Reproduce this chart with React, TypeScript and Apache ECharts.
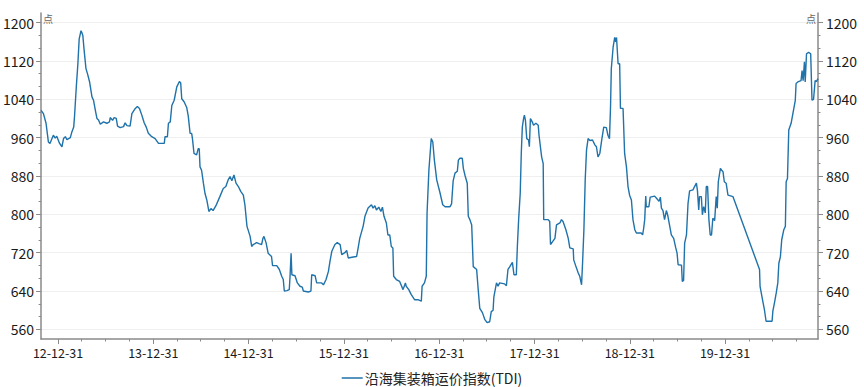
import React, { useEffect, useRef } from "react";
import * as echarts from "echarts";

const seriesName = "沿海集装箱运价指数(TDI)";
const unitLabel = "点";

const tdi2012: [string, number][] = [
  ["2012-10-27", 1017], ["2012-11-05", 1010], ["2012-11-15", 990], ["2012-11-24", 951],
  ["2012-11-30", 948], ["2012-12-13", 965], ["2012-12-20", 959], ["2012-12-26", 963],
];
const tdi2013: [string, number][] = [
  ["2013-01-06", 948], ["2013-01-15", 941], ["2013-01-21", 958], ["2013-01-28", 962],
  ["2013-02-03", 956], ["2013-02-16", 960], ["2013-02-22", 972], ["2013-03-01", 982],
  ["2013-03-04", 1003], ["2013-03-11", 1066], ["2013-03-17", 1114], ["2013-03-22", 1166],
  ["2013-03-29", 1183], ["2013-04-02", 1178], ["2013-04-05", 1173], ["2013-04-10", 1142],
  ["2013-04-17", 1104], ["2013-04-23", 1093], ["2013-05-01", 1076], ["2013-05-10", 1045],
  ["2013-05-16", 1038], ["2013-05-23", 1017], ["2013-05-29", 1000], ["2013-06-04", 997],
  ["2013-06-11", 988], ["2013-06-23", 993], ["2013-07-06", 990], ["2013-07-16", 993],
  ["2013-07-19", 1002], ["2013-07-28", 996], ["2013-08-03", 1002], ["2013-08-11", 1000],
  ["2013-08-16", 984], ["2013-08-26", 981], ["2013-09-08", 983], ["2013-09-14", 991],
  ["2013-09-21", 985], ["2013-10-03", 984], ["2013-10-10", 1010], ["2013-10-23", 1021],
  ["2013-10-31", 1025], ["2013-11-08", 1021], ["2013-11-17", 1007], ["2013-11-26", 991],
  ["2013-12-04", 982], ["2013-12-12", 969], ["2013-12-25", 962],
];
const tdi2014: [string, number][] = [
  ["2014-01-07", 958], ["2014-01-20", 948], ["2014-02-11", 948], ["2014-02-14", 962],
  ["2014-02-23", 962], ["2014-02-27", 990], ["2014-03-06", 993], ["2014-03-12", 1027],
  ["2014-03-21", 1038], ["2014-03-31", 1066], ["2014-04-10", 1077], ["2014-04-15", 1074],
  ["2014-04-19", 1041], ["2014-04-28", 1035], ["2014-05-08", 1023], ["2014-05-14", 1005],
  ["2014-05-21", 969], ["2014-05-27", 969], ["2014-05-30", 958], ["2014-06-05", 927],
  ["2014-06-15", 924], ["2014-06-21", 937], ["2014-06-25", 937], ["2014-06-28", 899],
  ["2014-07-04", 892], ["2014-07-11", 865], ["2014-07-17", 844], ["2014-07-24", 830],
  ["2014-08-01", 806], ["2014-08-09", 812], ["2014-08-17", 808], ["2014-08-28", 818],
  ["2014-09-12", 837], ["2014-09-25", 854], ["2014-10-05", 858], ["2014-10-14", 872],
  ["2014-10-21", 879], ["2014-10-28", 870], ["2014-11-05", 882], ["2014-11-13", 865],
  ["2014-11-22", 858], ["2014-12-01", 848], ["2014-12-11", 840], ["2014-12-17", 820],
  ["2014-12-25", 775],
];
const tdi2015: [string, number][] = [
  ["2015-01-06", 754], ["2015-01-12", 733], ["2015-01-18", 737], ["2015-01-31", 741],
  ["2015-02-09", 739], ["2015-02-19", 737], ["2015-02-24", 750], ["2015-02-28", 754],
  ["2015-03-08", 741], ["2015-03-16", 719], ["2015-03-29", 712], ["2015-04-02", 693],
  ["2015-04-18", 693], ["2015-04-28", 685], ["2015-05-07", 671], ["2015-05-13", 664],
  ["2015-05-17", 640], ["2015-05-27", 641], ["2015-06-05", 643], ["2015-06-08", 671],
  ["2015-06-12", 719], ["2015-06-15", 674], ["2015-06-27", 672], ["2015-07-06", 657],
  ["2015-07-16", 650], ["2015-07-25", 648], ["2015-07-29", 640], ["2015-08-17", 638],
  ["2015-08-27", 640], ["2015-08-30", 674], ["2015-09-12", 672], ["2015-09-18", 657],
  ["2015-10-07", 657], ["2015-10-14", 653], ["2015-10-24", 664], ["2015-11-02", 681],
  ["2015-11-08", 702], ["2015-11-15", 723], ["2015-11-27", 737], ["2015-12-06", 741],
  ["2015-12-17", 737], ["2015-12-23", 716],
];
const tdi2016: [string, number][] = [
  ["2016-01-04", 720], ["2016-01-11", 725], ["2016-01-17", 709], ["2016-02-05", 711],
  ["2016-02-18", 712], ["2016-02-24", 730], ["2016-03-01", 750], ["2016-03-14", 775],
  ["2016-03-21", 796], ["2016-04-02", 813], ["2016-04-15", 820], ["2016-04-21", 813],
  ["2016-04-28", 818], ["2016-05-04", 809], ["2016-05-13", 815], ["2016-05-21", 806],
  ["2016-05-27", 815], ["2016-06-02", 796], ["2016-06-11", 782], ["2016-06-17", 757],
  ["2016-06-24", 757], ["2016-06-30", 733], ["2016-07-06", 730], ["2016-07-09", 671],
  ["2016-07-19", 664], ["2016-08-01", 660], ["2016-08-14", 643], ["2016-08-23", 657],
  ["2016-08-26", 650], ["2016-09-05", 643], ["2016-09-14", 633], ["2016-09-27", 622],
  ["2016-10-10", 622], ["2016-10-23", 619], ["2016-10-26", 650], ["2016-11-04", 657],
  ["2016-11-11", 671], ["2016-11-14", 803], ["2016-11-21", 892], ["2016-11-30", 958],
  ["2016-12-06", 951], ["2016-12-12", 913], ["2016-12-21", 872],
];
const tdi2017: [string, number][] = [
  ["2017-01-03", 844], ["2017-01-13", 820], ["2017-01-22", 816], ["2017-02-10", 816],
  ["2017-02-16", 822], ["2017-02-22", 870], ["2017-03-01", 886], ["2017-03-10", 890],
  ["2017-03-14", 913], ["2017-03-20", 917], ["2017-03-29", 917], ["2017-04-02", 896],
  ["2017-04-09", 880], ["2017-04-17", 865], ["2017-04-21", 796], ["2017-04-27", 789],
  ["2017-05-04", 778], ["2017-05-10", 691], ["2017-05-23", 685], ["2017-05-29", 643],
  ["2017-06-04", 604], ["2017-06-14", 595], ["2017-06-23", 581], ["2017-07-02", 574],
  ["2017-07-12", 576], ["2017-07-18", 597], ["2017-07-25", 600], ["2017-07-28", 628],
  ["2017-08-07", 657], ["2017-08-13", 650], ["2017-08-19", 657], ["2017-09-07", 655],
  ["2017-09-14", 651], ["2017-09-20", 685], ["2017-09-26", 690], ["2017-10-07", 700],
  ["2017-10-13", 674], ["2017-10-22", 674], ["2017-10-26", 733], ["2017-10-31", 790],
  ["2017-11-06", 844], ["2017-11-10", 927], ["2017-11-14", 982], ["2017-11-19", 1000],
  ["2017-11-22", 1007], ["2017-11-26", 996], ["2017-12-01", 958], ["2017-12-08", 955],
  ["2017-12-11", 941], ["2017-12-15", 1000], ["2017-12-22", 993], ["2017-12-27", 986],
];
const tdi2018: [string, number][] = [
  ["2018-01-05", 990], ["2018-01-14", 986], ["2018-01-17", 965], ["2018-01-27", 920],
  ["2018-02-02", 906], ["2018-02-04", 789], ["2018-02-21", 789], ["2018-02-27", 785],
  ["2018-03-02", 737], ["2018-03-10", 743], ["2018-03-19", 750], ["2018-03-25", 778],
  ["2018-04-07", 782], ["2018-04-13", 789], ["2018-04-19", 785], ["2018-04-30", 768],
  ["2018-05-09", 750], ["2018-05-15", 730], ["2018-05-28", 728], ["2018-05-30", 705],
  ["2018-06-07", 692], ["2018-06-16", 678], ["2018-06-22", 671], ["2018-06-29", 653],
  ["2018-07-03", 700], ["2018-07-08", 768], ["2018-07-13", 872], ["2018-07-18", 934],
  ["2018-07-24", 958], ["2018-07-31", 954], ["2018-08-10", 955], ["2018-08-19", 945],
  ["2018-08-25", 941], ["2018-08-31", 920], ["2018-09-07", 927], ["2018-09-15", 958],
  ["2018-09-22", 982], ["2018-10-02", 981], ["2018-10-08", 965], ["2018-10-14", 958],
  ["2018-10-18", 1024], ["2018-10-21", 1104], ["2018-10-28", 1149], ["2018-11-03", 1169],
  ["2018-11-07", 1160], ["2018-11-10", 1169], ["2018-11-16", 1114], ["2018-11-22", 1114],
  ["2018-11-25", 1021], ["2018-12-05", 1021], ["2018-12-11", 927], ["2018-12-18", 899],
  ["2018-12-24", 858], ["2018-12-30", 840],
];
const tdi2019: [string, number][] = [
  ["2019-01-06", 830], ["2019-01-12", 789], ["2019-01-19", 768], ["2019-01-25", 761],
  ["2019-02-13", 761], ["2019-02-18", 757], ["2019-02-22", 771], ["2019-02-26", 789],
  ["2019-03-02", 838], ["2019-03-04", 816], ["2019-03-14", 816], ["2019-03-19", 836],
  ["2019-04-05", 838], ["2019-04-13", 833], ["2019-04-22", 827], ["2019-04-27", 836],
  ["2019-05-01", 813], ["2019-05-07", 808], ["2019-05-13", 789], ["2019-05-20", 808],
  ["2019-05-26", 796], ["2019-06-02", 775], ["2019-06-08", 757], ["2019-06-17", 750],
  ["2019-06-25", 730], ["2019-06-30", 719], ["2019-07-04", 695], ["2019-07-17", 694],
  ["2019-07-20", 660], ["2019-07-25", 662], ["2019-07-29", 740], ["2019-08-05", 757],
  ["2019-08-11", 823], ["2019-08-17", 849], ["2019-08-30", 851], ["2019-09-05", 858],
  ["2019-09-12", 865], ["2019-09-16", 850], ["2019-09-21", 809], ["2019-09-24", 837],
  ["2019-10-01", 837], ["2019-10-05", 799], ["2019-10-10", 816], ["2019-10-16", 803],
  ["2019-10-20", 858], ["2019-10-25", 858], ["2019-10-30", 789], ["2019-11-04", 757],
  ["2019-11-09", 757], ["2019-11-14", 792], ["2019-11-21", 787], ["2019-11-27", 837],
  ["2019-12-01", 813], ["2019-12-05", 868], ["2019-12-13", 896], ["2019-12-18", 892],
  ["2019-12-23", 889], ["2019-12-28", 868],
];
const tdi2020: [string, number][] = [
  ["2020-01-04", 865], ["2020-01-11", 840], ["2020-01-24", 838], ["2020-01-30", 837],
  ["2020-05-11", 685], ["2020-05-13", 650], ["2020-05-23", 620], ["2020-05-30", 600],
  ["2020-06-05", 577], ["2020-06-28", 577], ["2020-07-01", 598], ["2020-07-07", 615],
  ["2020-07-14", 636], ["2020-07-20", 657], ["2020-07-24", 698], ["2020-07-30", 712],
  ["2020-08-04", 747], ["2020-08-12", 768], ["2020-08-18", 775], ["2020-08-21", 868],
  ["2020-08-26", 875], ["2020-08-31", 976], ["2020-09-09", 990], ["2020-09-18", 1017],
  ["2020-09-25", 1038], ["2020-09-28", 1073], ["2020-10-07", 1077], ["2020-10-17", 1079],
  ["2020-10-21", 1100], ["2020-10-25", 1079], ["2020-10-30", 1118], ["2020-11-02", 1076],
  ["2020-11-07", 1135], ["2020-11-15", 1138], ["2020-11-23", 1135], ["2020-11-28", 1038],
  ["2020-12-04", 1040], ["2020-12-10", 1079], ["2020-12-15", 1077], ["2020-12-21", 1083],
];

const xStart = "2012-10-27";
const xEnd = "2020-12-21";
const yearEndTicks = [
  "2012-12-31", "2013-12-31", "2014-12-31", "2015-12-31",
  "2016-12-31", "2017-12-31", "2018-12-31", "2019-12-31",
];
const quarterEndTicks = [
  "2013-03-31", "2013-06-30", "2013-09-30", "2014-03-31", "2014-06-30", "2014-09-30",
  "2015-03-31", "2015-06-30", "2015-09-30", "2016-03-31", "2016-06-30", "2016-09-30",
  "2017-03-31", "2017-06-30", "2017-09-30", "2018-03-31", "2018-06-30", "2018-09-30",
  "2019-03-31", "2019-06-30", "2019-09-30", "2020-03-31", "2020-06-30", "2020-09-30",
];
const yMajorTicks = [560, 640, 720, 800, 880, 960, 1040, 1120, 1200];
const yMinorTicks = [
  586.67, 613.33, 666.67, 693.33, 746.67, 773.33, 826.67, 853.33, 906.67, 933.33,
  986.67, 1013.33, 1066.67, 1093.33, 1146.67, 1173.33,
];
const yMin = 540;
const yMax = 1220;

const toTime = (s: string) => {
  const [y, m, d] = s.split("-").map(Number);
  return Date.UTC(y, m - 1, d);
};
const pad = (n: number) => (n < 10 ? "0" + n : "" + n);
const fmtDate = (v: number) => {
  const d = new Date(v);
  return `${pad(d.getUTCFullYear() % 100)}-${pad(d.getUTCMonth() + 1)}-${pad(d.getUTCDate())}`;
};

const AXIS_COLOR = "#8a8a8a";
const LINE_COLOR = "#1f72aa";
const FONT = "'Noto Sans CJK SC', 'Noto Sans', sans-serif";

export default function App() {
  const ref = useRef<HTMLDivElement>(null);
  useEffect(() => {
    document.body.style.margin = "0";
    if (!ref.current) return;
    const chart = echarts.init(ref.current, undefined, { renderer: "svg" });
    const data = [
      ...tdi2012, ...tdi2013, ...tdi2014, ...tdi2015, ...tdi2016,
      ...tdi2017, ...tdi2018, ...tdi2019, ...tdi2020,
    ].map(([d, v]) => [toTime(d), v]);

    const commonX = {
      type: "value" as const,
      min: toTime(xStart),
      max: toTime(xEnd),
      position: "bottom" as const,
      splitLine: { show: false },
    };
    const commonY = {
      type: "value" as const,
      min: yMin,
      max: yMax,
    };

    chart.setOption({
      animation: false,
      textStyle: { fontFamily: FONT },
      grid: { left: 41, right: 46, top: 13, bottom: 48, containLabel: false },
      legend: {
        bottom: 2,
        padding: 0,
        left: "center",
        icon: "rect",
        itemWidth: 21,
        itemHeight: 1.5,
        itemGap: 10,
        textStyle: { fontSize: 14, color: "#222", fontFamily: FONT, padding: [0, 0, 0, -3] },
        data: [seriesName],
      },
      xAxis: [
        {
          ...commonX,
          axisLine: { show: true, lineStyle: { color: AXIS_COLOR, width: 1.5 } },
          axisTick: {
            show: true,
            length: 5,
            customValues: yearEndTicks.map(toTime),
            lineStyle: { color: AXIS_COLOR, width: 1 },
          },
          axisLabel: {
            customValues: yearEndTicks.map(toTime),
            formatter: (v: number) => fmtDate(v),
            fontSize: 12.5,
            color: "#1a1a1a",
            margin: 7,
            fontFamily: FONT,
          },
        },
        {
          ...commonX,
          axisLine: { show: false },
          axisTick: {
            show: true,
            length: 2.5,
            customValues: quarterEndTicks.map(toTime),
            lineStyle: { color: AXIS_COLOR, width: 1 },
          },
          axisLabel: { show: false },
        },
      ],
      yAxis: [
        {
          ...commonY,
          position: "left",
          name: unitLabel,
          nameLocation: "end",
          nameGap: 0,
          nameTextStyle: {
            fontSize: 10,
            color: "#666",
            align: "left",
            verticalAlign: "top",
            padding: [0, 0, 0, 2],
          },
          axisLine: { show: true, lineStyle: { color: AXIS_COLOR, width: 1.5 } },
          axisTick: {
            show: true,
            length: 5,
            customValues: yMajorTicks,
            lineStyle: { color: AXIS_COLOR, width: 1 },
          },
          axisLabel: {
            customValues: yMajorTicks,
            formatter: (v: number) => String(Math.round(v)),
            fontSize: 14,
            color: "#1a1a1a",
            margin: 7,
            fontFamily: FONT,
          },
          splitLine: { show: true, lineStyle: { color: "#efefef", width: 1 } },
        },
        {
          ...commonY,
          position: "left",
          axisLine: { show: false },
          axisTick: {
            show: true,
            length: 2.5,
            customValues: yMinorTicks,
            lineStyle: { color: AXIS_COLOR, width: 1 },
          },
          axisLabel: { show: false },
          splitLine: { show: false },
        },
        {
          ...commonY,
          position: "right",
          name: unitLabel,
          nameLocation: "end",
          nameGap: 0,
          nameTextStyle: {
            fontSize: 10,
            color: "#666",
            align: "right",
            verticalAlign: "top",
            padding: [0, 2, 0, 0],
          },
          axisLine: { show: true, lineStyle: { color: AXIS_COLOR, width: 1.5 } },
          axisTick: {
            show: true,
            length: 5,
            customValues: yMajorTicks,
            lineStyle: { color: AXIS_COLOR, width: 1 },
          },
          axisLabel: {
            customValues: yMajorTicks,
            formatter: (v: number) => String(Math.round(v)),
            fontSize: 14,
            color: "#1a1a1a",
            margin: 8,
            fontFamily: FONT,
          },
          splitLine: { show: false },
        },
        {
          ...commonY,
          position: "right",
          axisLine: { show: false },
          axisTick: {
            show: true,
            length: 2.5,
            customValues: yMinorTicks,
            lineStyle: { color: AXIS_COLOR, width: 1 },
          },
          axisLabel: { show: false },
          splitLine: { show: false },
        },
      ],
      series: [
        {
          name: seriesName,
          type: "line",
          xAxisIndex: 0,
          yAxisIndex: 0,
          data,
          symbol: "none",
          lineStyle: { color: LINE_COLOR, width: 1.4 },
          itemStyle: { color: LINE_COLOR },
        },
      ],
    });
    return () => chart.dispose();
  }, []);
  return <div ref={ref} style={{ width: 864, height: 387 }} />;
}
